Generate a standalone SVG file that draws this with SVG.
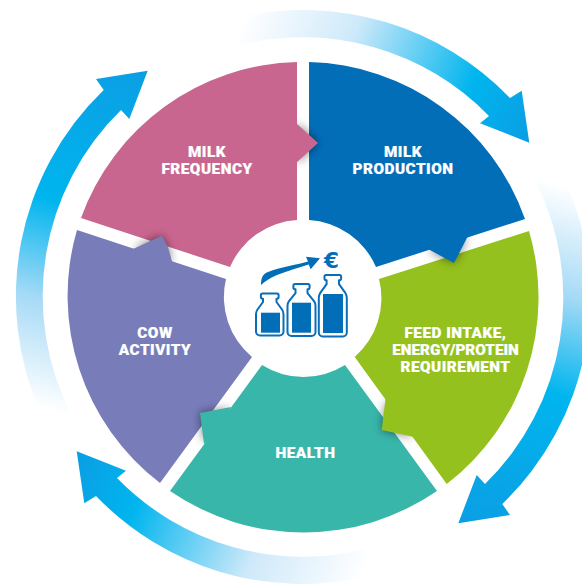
<svg xmlns="http://www.w3.org/2000/svg" xmlns:xlink="http://www.w3.org/1999/xlink" width="582" height="585" viewBox="0 0 582 585">
<style>
.lbl{font-family:"Roboto","Liberation Sans",sans-serif;font-weight:900;font-size:15.300px;fill:#fff;stroke:#fff;stroke-width:.2;text-anchor:middle;letter-spacing:.5px}
.pink{fill:#c9668f}.blue{fill:#036eb8}.green{fill:#95c11f}.teal{fill:#39b6aa}.purple{fill:#787cb9}
.sh{fill:#000;opacity:.5;filter:url(#blur)}
.ol{fill:none;stroke:#0a6db8;stroke-width:2;stroke-linejoin:round}
.fl{fill:#036eb8}
</style>
<defs>
<filter id="blur" x="-60%" y="-60%" width="220%" height="220%"><feGaussianBlur stdDeviation="5"/></filter>
<linearGradient id="g1" gradientUnits="userSpaceOnUse" x1="245" y1="15" x2="527" y2="135">
<stop offset="0" stop-color="#fff"/><stop offset=".35" stop-color="#cfe9fa"/><stop offset=".77" stop-color="#00b5ee"/><stop offset="1" stop-color="#0a9fe4"/></linearGradient>
<linearGradient id="g2" gradientUnits="userSpaceOnUse" x1="560" y1="185" x2="465" y2="520">
<stop offset="0" stop-color="#fff"/><stop offset=".3" stop-color="#a6daf6"/><stop offset=".58" stop-color="#00b5ee"/><stop offset="1" stop-color="#0a9fe4"/></linearGradient>
<path id="a1" d="M240 17A287 287 0 0 1 510 98L521.700 90.700L529.300 142.700L480 123.300L489 116A260 260 0 0 0 240 45Z" fill="url(#g1)"/>
<path id="a2" d="M565 180A287 287 0 0 1 502.300 504L510 515L458.300 523.300L476.700 475L485 484A260 260 0 0 0 535 180Z" fill="url(#g2)"/>
<clipPath id="c1"><rect x="297" y="90" width="70" height="110"/></clipPath>
<clipPath id="c2"><polygon points="525,219 376,267 400,320 540,290"/></clipPath>
<clipPath id="c3"><polygon points="354.7,357 446.7,484 340,520 320,380"/></clipPath>
<clipPath id="c4"><polygon points="262,365 170,491 130,420 200,350"/></clipPath>
<clipPath id="c5"><polygon points="77,230 226,279 260,210 100,170"/></clipPath>
</defs>
<g id="connectors">
<use xlink:href="#a1" href="#a1"/>
<use xlink:href="#a2" href="#a2"/>
<use xlink:href="#a1" href="#a1" transform="rotate(180 303 297)"/>
<use xlink:href="#a2" href="#a2" transform="rotate(180 303 297)"/>
</g>
<g id="node-milk-frequency">
<path class="pink" d="M297 62A235.500 235.500 0 0 0 81 218L230 267A78 78 0 0 1 297 220Z"/>
<text class="lbl" x="207" y="157">MILK<tspan x="207" dy="16.500">FREQUENCY</tspan></text>
</g>
<g id="node-milk-production">
<path class="blue" d="M309 62A235.500 235.500 0 0 1 525 219L376 267A78 78 0 0 0 309 220Z"/>
<text class="lbl" x="403" y="157">MILK<tspan x="403" dy="16.500">PRODUCTION</tspan></text>
</g>
<g id="node-feed-intake">
<path class="green" d="M529 231A235.500 235.500 0 0 1 446.700 484L354.700 357A78 78 0 0 0 379 279Z"/>
<text class="lbl" x="455.500" y="337.500">FEED INTAKE,<tspan x="455.500" dy="17.300" letter-spacing="0">ENERGY/PROTEIN</tspan><tspan x="455.500" dy="17.300">REQUIREMENT</tspan></text>
</g>
<g id="node-health">
<path class="teal" d="M437 491A235.500 235.500 0 0 1 170 491L262 365A78 78 0 0 0 345 365Z"/>
<text class="lbl" x="305.500" y="458" letter-spacing=".8">HEALTH</text>
</g>
<g id="node-cow-activity">
<path class="purple" d="M160 483A235.500 235.500 0 0 1 77 230L226 279A78 78 0 0 0 252 357Z"/>
<text class="lbl" x="155" y="338">COW<tspan x="155" dy="17">ACTIVITY</tspan></text>
</g>
<g id="tabs">
<g clip-path="url(#c1)"><polygon class="sh" points="297,123 318,143 297,163"/></g>
<polygon class="pink" points="296,123 318,143 296,163"/>
<g clip-path="url(#c2)"><polygon class="sh" points="467.700,237 454,263 428,250"/></g>
<polygon class="blue" points="468,236 454,263 428,249 440,240 460,234"/>
<g clip-path="url(#c3)"><polygon class="sh" points="413,437 381.700,430 386,400"/></g>
<polygon class="green" points="414,437 381.700,430 385.500,399 400,410"/>
<g clip-path="url(#c4)"><polygon class="sh" points="230,408 200,413 204,443"/></g>
<polygon class="teal" points="231,407 200,413 204,444 220,430"/>
<g clip-path="url(#c5)"><polygon class="sh" points="134,248 161.700,235.700 168,247 172,262"/></g>
<polygon class="purple" points="133,249 161.700,235.700 168,247 172.500,263 150,258"/>
</g>
<g id="node-centre">
<path class="ol" d="M264 293.500h13a1.600 1.600 0 0 1 1.600 1.600v2a1.600 1.600 0 0 1-1.600 1.600h-.5v3.300l5.500 7.500a8 8 0 0 1 1.500 4.500v17.500a4 4 0 0 1-4 4h-19.500a4 4 0 0 1-4-4v-17.500a8 8 0 0 1 1.500-4.500l5.500-7.500v-3.300h-.5a1.600 1.600 0 0 1-1.600-1.600v-2a1.600 1.600 0 0 1 1.600-1.600Z"/>
<rect class="fl" x="261" y="312.700" width="19" height="20"/>
<path class="ol" d="M295 284h13a1.600 1.600 0 0 1 1.600 1.600v2a1.600 1.600 0 0 1-1.600 1.600h-.5v4l6.500 8a8 8 0 0 1 1.500 4.500v26.300a4 4 0 0 1-4 4h-20a4 4 0 0 1-4-4v-26.300a8 8 0 0 1 1.500-4.500l6.500-8v-4h-.5a1.600 1.600 0 0 1-1.600-1.600v-2a1.600 1.600 0 0 1 1.600-1.600Z"/>
<rect class="fl" x="292" y="302.700" width="19" height="30"/>
<path class="ol" d="M327 275h12.500a1.600 1.600 0 0 1 1.600 1.600v2a1.600 1.600 0 0 1-1.600 1.600h-.5v4l6.500 9a8 8 0 0 1 1.300 4.500v34.800a4 4 0 0 1-4 4h-20a4 4 0 0 1-4-4v-34.800a8 8 0 0 1 1.300-4.500l6.500-9v-4h-.5a1.600 1.600 0 0 1-1.600-1.600v-2a1.600 1.600 0 0 1 1.600-1.600Z"/>
<rect class="fl" x="323" y="294" width="20" height="39"/>
<path class="fl" d="M261 285C261 277 263 274 268 272C280 267 296 265 308 261.500L306 256.700L320 258.300L310.700 269.300L308.700 264.500C298 268 287 271 277 275C270 278 265 281 261 285Z"/>
<text x="331.500" y="267.500" font-family="'DejaVu Sans','Liberation Sans',sans-serif" font-weight="700" font-size="21.500" fill="#036eb8" text-anchor="middle">€</text>
</g>
</svg>
